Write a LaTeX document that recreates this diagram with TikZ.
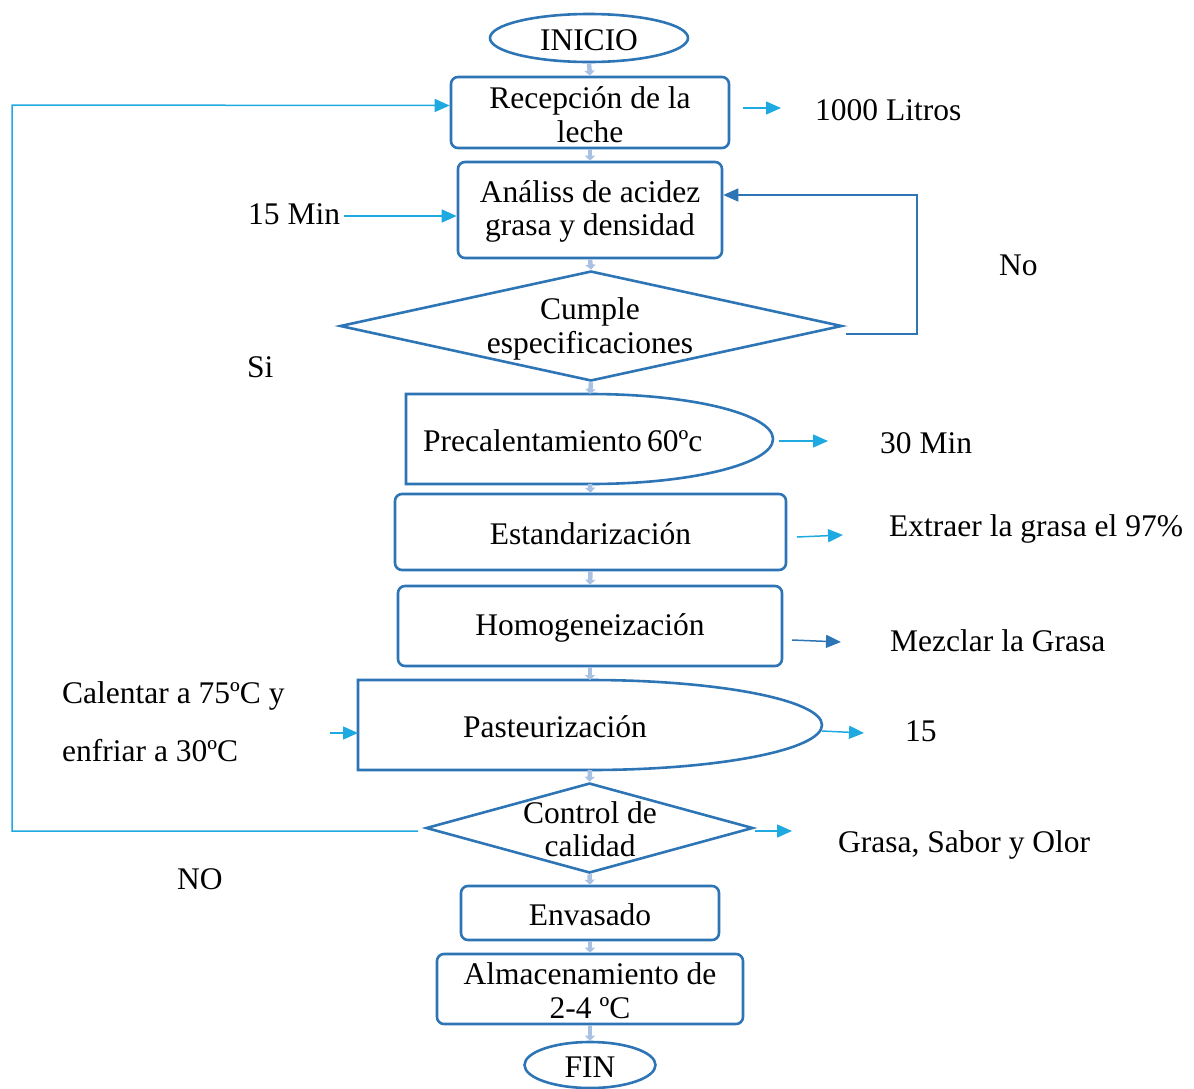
\documentclass[tikz,border=0pt]{standalone}
\usepackage{fontspec}
\setmainfont{Liberation Serif}
\usetikzlibrary{shapes.geometric,arrows.meta,calc}
\definecolor{boxblue}{HTML}{2E75B6}
\definecolor{cyanA}{HTML}{1FA9E1}
\definecolor{lightc}{HTML}{A9C1E3}
\newcommand\txtfont{\fontsize{31.5}{33.5}\selectfont}
\begin{document}
\begin{tikzpicture}[x=1pt,y=-1pt,
  shapeline/.style={draw=boxblue, line width=2.6pt},
  box/.style={shapeline, rounded corners=7pt, fill=white, inner sep=0pt},
  oval/.style={shapeline, ellipse, inner sep=0pt},
  diam/.style={shapeline, diamond, inner sep=0pt},
  txt/.style={inner sep=0pt, align=center, font=\txtfont},
  lbl/.style={inner sep=0pt, anchor=west, font=\txtfont},
  conn/.style={draw=lightc, line width=4.5pt, -{Triangle[width=10pt,length=5pt]}},
  side/.style={draw=cyanA, line width=1.5pt, -{Triangle[width=13pt,length=15pt]}},
  sidedark/.style={draw=boxblue, line width=1.5pt, -{Triangle[width=13pt,length=15pt]}},
  loopline/.style={line width=1.5pt, -{Triangle[width=13pt,length=15pt]}}
]
\useasboundingbox (0,0) rectangle (1194,1088);

% main shapes
\node[oval, minimum width=198pt, minimum height=48pt] (ini) at (589,38) {};
\node[txt] at (589,40) {INICIO};
\node[box, minimum width=278pt, minimum height=71pt] (rec) at (590,112.5) {};
\node[txt] at (590,114.5) {Recepción de la\\leche};
\node[box, minimum width=264pt, minimum height=96pt] (ana) at (590,210) {};
\node[txt] at (590,211.5) {Análiss de acidez\\grasa y densidad};
\node[diam, minimum width=502pt, minimum height=110pt] (d1) at (591,326) {};
\node[txt] (d1t) at (590,329) {Cumple\\especificaciones};

% Precalentamiento (D shape)
\draw[shapeline] (406,484) -- (406,394) -- (590,394)
  arc[start angle=-90, end angle=90, x radius=183, y radius=45] -- cycle;
\coordinate (pretop) at (590,394);
\coordinate (prebot) at (590,484);
\node[lbl] (pre) at (423,441) {Precalentamiento\,60ºc};

\node[box, minimum width=391pt, minimum height=76pt] (est) at (590.5,532) {};
\node[txt] at (590.5,534) {Estandarización};
\node[box, minimum width=384pt, minimum height=80pt] (hom) at (590,626) {};
\node[txt] at (590,628) {Homogeneización};

% Pasteurizacion (D shape)
\draw[shapeline] (358,770) -- (358,680) -- (590,680)
  arc[start angle=-90, end angle=90, x radius=232, y radius=45] -- cycle;
\coordinate (pastop) at (590,680);
\coordinate (pasbot) at (590,770);
\node[txt] (pas) at (555,727) {Pasteurización};

\node[diam, minimum width=327pt, minimum height=90pt] (d2) at (589.5,828) {};
\node[txt] (d2t) at (590,829) {Control de\\calidad};

\node[box, minimum width=258pt, minimum height=54pt] (env) at (590,913) {};
\node[txt] at (590,915) {Envasado};
\node[box, minimum width=306pt, minimum height=70pt] (alm) at (590,989) {};
\node[txt] at (590,990.5) {Almacenamiento de\\2-4 ºC};
\node[oval, minimum width=131pt, minimum height=46pt] (fin) at (590,1065) {};
\node[txt] at (590,1067) {FIN};

% stub connectors
\draw[conn] (ini.south) -- (rec.north);
\draw[conn] (rec.south) -- (ana.north);
\draw[conn] (ana.south) -- (d1.north);
\draw[conn] (d1.south) -- (pretop);
\draw[conn] (prebot) -- (est.north);
\draw[conn] (est.south) -- (hom.north);
\draw[conn] (hom.south) -- (pastop);
\draw[conn] (pasbot) -- (d2.north);
\draw[conn] (d2.south) -- (env.north);
\draw[conn] (env.south) -- (alm.north);
\draw[conn] (alm.south) -- (fin.north);

% labels
\node[lbl] (l1000) at (815,110) {1000 Litros};
\node[lbl] (l15min) at (248,214) {15 Min};
\node[lbl] (lno) at (999,265) {No};
\node[lbl] (lsi) at (247,367) {Si};
\node[lbl] (l30) at (880,443) {30 Min};
\node[lbl] (lext) at (889,529) {Extraer la grasa el 97\%};
\node[lbl] (lmez) at (890,641) {Mezclar la Grasa};
\node[lbl] (lcal1) at (62,696) {Calentar a 75ºC y};
\node[lbl] (lcal2) at (62,751) {enfriar a 30ºC};
\node[lbl] (l15) at (905,731) {15};
\node[lbl] (lgra) at (838,845) {Grasa, Sabor y Olor};
\node[lbl] (lNO) at (177,879) {NO};

% side arrows
\coordinate (a1s) at (743,108); \coordinate (a1e) at (781,108);
\draw[side] (a1s) -- (a1e);
\coordinate (a2s) at (344,216);
\draw[side] (a2s) -- (ana.west |- a2s);
\coordinate (a3s) at (779,441); \coordinate (a3e) at (828,441);
\draw[side] (a3s) -- (a3e);
\coordinate (a4s) at (797,537); \coordinate (a4e) at (843,535);
\draw[side] (a4s) -- (a4e);
\coordinate (a5s) at (792,640); \coordinate (a5e) at (841,642);
\draw[sidedark] (a5s) -- (a5e);
\coordinate (a6s) at (330,733); \coordinate (a6e) at (358,733);
\draw[side] (a6s) -- (a6e);
\coordinate (a7s) at (822,731); \coordinate (a7e) at (864,733);
\draw[side] (a7s) -- (a7e);
\coordinate (a8s) at (755,831); \coordinate (a8e) at (792,831);
\draw[side] (a8s) -- (a8e);

% loops
\coordinate (nos) at (846,334);
\draw[loopline, draw=boxblue] (nos) -- (917,334) -- (917,195) -- ($(ana.east)+(0,-15)$);
\coordinate (NOs) at (418,831);
\draw[loopline, draw=cyanA] (NOs) -- (12,831) -- (12,105) -- ($(rec.west)+(0,-7)$);
\end{tikzpicture}
\end{document}
